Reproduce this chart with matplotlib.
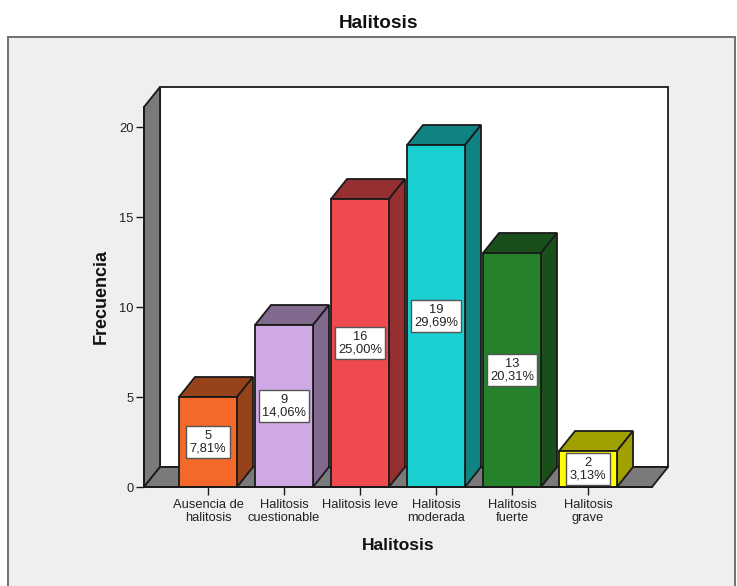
import matplotlib
matplotlib.use("Agg")
import matplotlib.pyplot as plt
from matplotlib.patches import Polygon, Rectangle

categories = ["Ausencia de\nhalitosis", "Halitosis\ncuestionable", "Halitosis leve",
              "Halitosis\nmoderada", "Halitosis\nfuerte", "Halitosis\ngrave"]
counts = [5, 9, 16, 19, 13, 2]
percents = ["7,81%", "14,06%", "25,00%", "29,69%", "20,31%", "3,13%"]
front_colors = ["#F4692A", "#CFA9E4", "#EF4B4E", "#1ACFCF", "#26812B", "#FFFF00"]
side_colors = ["#96431B", "#826A8F", "#962F31", "#108282", "#184F1B", "#A0A000"]

W, H = 737, 586
plt.rcParams["font.family"] = ["Liberation Sans", "DejaVu Sans"]
fig = plt.figure(figsize=(W / 100, H / 100), dpi=100, facecolor="white")

# outer chart panel, kept behind the axes
fig.add_artist(Rectangle((8 / W, -0.02), 727 / W, 1.02 - 37 / H, transform=fig.transFigure,
                         facecolor="#EFEFEF", edgecolor="#707070", linewidth=1.4, zorder=-1))

ax = fig.add_axes([144 / W, 1 - 487 / H, 508 / W, 380 / H])
ax.patch.set_alpha(0)
ax.set_xlim(-0.842, 5.842)
ax.set_ylim(0, 380 / 18)

# 3d depth offset in data units
dx = 16 / 76
dy = 20 / 18
bar_w = 58 / 76
x0, x1 = ax.get_xlim()
y1 = ax.get_ylim()[1]
edge = "#1A1A1A"
lw = 1.3

# back wall, left wall, floor
ax.add_patch(Polygon([(x0 + dx, dy), (x1 + dx, dy), (x1 + dx, y1 + dy), (x0 + dx, y1 + dy)],
                     facecolor="white", edgecolor=edge, lw=lw, clip_on=False, zorder=1))
ax.add_patch(Polygon([(x0, 0), (x0 + dx, dy), (x0 + dx, y1 + dy), (x0, y1)],
                     facecolor="#7A7A7A", edgecolor=edge, lw=lw, clip_on=False, zorder=1))
ax.add_patch(Polygon([(x0, 0), (x1, 0), (x1 + dx, dy), (x0 + dx, dy)],
                     facecolor="#7A7A7A", edgecolor=edge, lw=lw, clip_on=False, zorder=1))

for i, n in enumerate(counts):
    left = i - bar_w / 2
    right = i + bar_w / 2
    ax.add_patch(Polygon([(left, n), (right, n), (right + dx, n + dy), (left + dx, n + dy)],
                         facecolor=side_colors[i], edgecolor=edge, lw=lw, clip_on=False, zorder=2))
    ax.add_patch(Polygon([(right, 0), (right + dx, dy), (right + dx, n + dy), (right, n)],
                         facecolor=side_colors[i], edgecolor=edge, lw=lw, clip_on=False, zorder=2))

ax.bar(range(len(counts)), counts, width=bar_w, color=front_colors, edgecolor=edge,
       linewidth=lw, zorder=3, clip_on=False)

for i, n in enumerate(counts):
    ax.text(i, n / 2, "%d\n%s" % (n, percents[i]), ha="center", va="center", fontsize=9.3,
            color="#222222", linespacing=1.1, zorder=4,
            bbox=dict(boxstyle="square,pad=0.25", facecolor="white", edgecolor="#555555", linewidth=1))

ax.spines["top"].set_visible(False)
ax.spines["right"].set_visible(False)
for s in ("left", "bottom"):
    ax.spines[s].set_linewidth(lw)
    ax.spines[s].set_color(edge)
    ax.spines[s].set_zorder(5)

ax.set_yticks([0, 5, 10, 15, 20])
ax.set_xticks(range(len(categories)))
ax.set_xticklabels(categories, linespacing=1.12)
ax.tick_params(axis="both", labelsize=9.3, length=5.5, width=1, color=edge, labelcolor="#222222", pad=2)
ax.tick_params(axis="x", pad=3)

fig.text(378.5 / W, 1 - 24 / H, "Halitosis", ha="center", va="center", fontsize=13.7, fontweight="bold", color="#111111")
fig.text(398 / W, 1 - 545 / H, "Halitosis", ha="center", va="center", fontsize=12.5, fontweight="bold", color="#111111")
fig.text(101 / W, 1 - 297 / H, "Frecuencia", ha="center", va="center", rotation=90, fontsize=13, fontweight="bold", color="#111111")

fig.savefig("out.png", dpi=100)
